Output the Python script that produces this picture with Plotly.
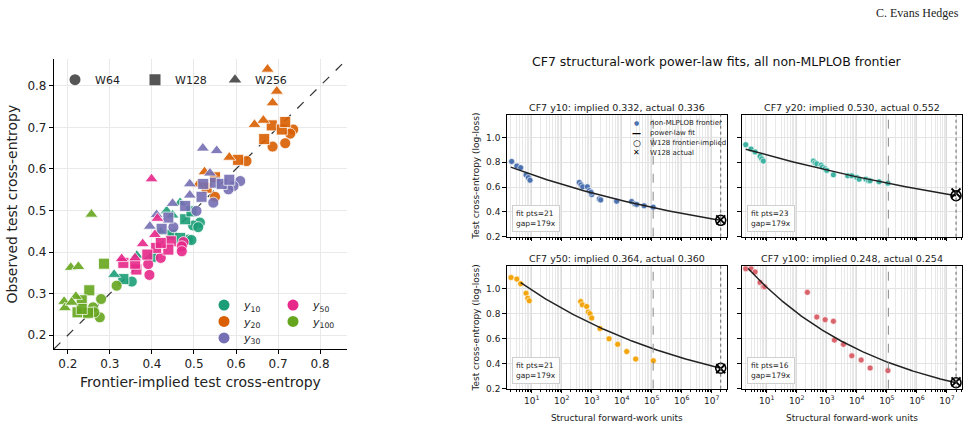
import numpy as np
import plotly.graph_objects as go

# ---------------- LEFT PANEL DATA (frontier-implied vs observed) ----------------
targets = ["y10", "y20", "y30", "y50", "y100"]
target_names = ["<i>y</i><sub>10</sub>", "<i>y</i><sub>20</sub>", "<i>y</i><sub>30</sub>",
                "<i>y</i><sub>50</sub>", "<i>y</i><sub>100</sub>"]
target_colors = ["#1b9e77", "#d95f02", "#7570b3", "#e7298a", "#66a61e"]
widths = ["W64", "W128", "W256"]
width_symbols = ["circle", "square", "triangle-up"]

y10_width = ["W64"] * 7 + ["W128"] * 5 + ["W256"] * 6
y10_implied = [0.514, 0.498, 0.510, 0.486, 0.494, 0.403, 0.352,
               0.479, 0.494, 0.447, 0.467, 0.332,
               0.435, 0.467, 0.449, 0.421, 0.364, 0.310]
y10_observed = [0.471, 0.464, 0.460, 0.430, 0.429, 0.388, 0.329,
                0.479, 0.498, 0.442, 0.434, 0.335,
                0.499, 0.519, 0.489, 0.448, 0.392, 0.346]

y20_width = ["W64"] * 6 + ["W128"] * 7 + ["W256"] * 8
y20_implied = [0.736, 0.729, 0.717, 0.687, 0.625, 0.550,
               0.685, 0.709, 0.717, 0.667, 0.605, 0.530, 0.550,
               0.675, 0.697, 0.687, 0.665, 0.644, 0.584, 0.525, 0.510]
y20_observed = [0.695, 0.685, 0.662, 0.654, 0.619, 0.533,
                0.705, 0.695, 0.713, 0.672, 0.622, 0.555, 0.580,
                0.840, 0.787, 0.759, 0.717, 0.707, 0.628, 0.593, 0.563]

y30_width = ["W64"] * 6 + ["W128"] * 8 + ["W256"] * 8
y30_implied = [0.610, 0.594, 0.582, 0.546, 0.506, 0.451,
               0.522, 0.550, 0.566, 0.584, 0.518, 0.479, 0.439, 0.423,
               0.521, 0.554, 0.538, 0.490, 0.490, 0.449, 0.411, 0.395]
y30_observed = [0.571, 0.559, 0.551, 0.519, 0.499, 0.460,
                0.564, 0.567, 0.564, 0.574, 0.533, 0.511, 0.483, 0.456,
                0.650, 0.644, 0.590, 0.564, 0.537, 0.517, 0.490, 0.462]

y50_width = ["W64"] * 6 + ["W128"] * 8 + ["W256"] * 6
y50_implied = [0.475, 0.471, 0.471, 0.421, 0.391, 0.394,
               0.410, 0.445, 0.439, 0.389, 0.363, 0.332, 0.360, 0.421,
               0.399, 0.413, 0.407, 0.378, 0.360, 0.328]
y50_observed = [0.424, 0.414, 0.402, 0.386, 0.371, 0.345,
                0.410, 0.426, 0.406, 0.394, 0.358, 0.374, 0.372, 0.422,
                0.576, 0.481, 0.442, 0.420, 0.386, 0.384]

y100_width = ["W64"] * 6 + ["W128"] * 6 + ["W256"] * 7
y100_implied = [0.316, 0.279, 0.260, 0.248, 0.276, 0.263,
                0.286, 0.251, 0.233, 0.223, 0.248, 0.233,
                0.256, 0.207, 0.225, 0.191, 0.219, 0.193, 0.209]
y100_observed = [0.319, 0.287, 0.267, 0.252, 0.243, 0.255,
                 0.372, 0.308, 0.284, 0.255, 0.254, 0.263,
                 0.491, 0.363, 0.365, 0.281, 0.293, 0.266, 0.279]

left_implied = [y10_implied, y20_implied, y30_implied, y50_implied, y100_implied]
left_observed = [y10_observed, y20_observed, y30_observed, y50_observed, y100_observed]
left_widths = [y10_width, y20_width, y30_width, y50_width, y100_width]

left_ticks = [0.2, 0.3, 0.4, 0.5, 0.6, 0.7, 0.8]
left_lim = [0.167, 0.864]

# ---------------- RIGHT PANELS DATA (CF7 power-law fits) ----------------
cf7_y10_work = [2.15, 3.2, 4.3, 6.5, 7.7, 8.8, 386, 440, 500, 713, 832, 1000, 950,
                1795, 1995, 6800, 21400, 27600, 31600, 56000, 112000]
cf7_y10_loss = [0.806, 0.769, 0.756, 0.698, 0.676, 0.655, 0.637, 0.618, 0.602, 0.602,
                0.571, 0.539, 0.557, 0.504, 0.496, 0.486, 0.483, 0.464, 0.460, 0.449, 0.438]

cf7_y20_work = [2.0, 3.0, 4.1, 6.0, 6.8, 7.7, 357, 407, 464, 646, 713, 877, 1000, 1660,
                5000, 6800, 10000, 11900, 20000, 24400, 27600, 55000, 108000]
cf7_y20_loss = [0.941, 0.906, 0.883, 0.848, 0.827, 0.809, 0.809, 0.795, 0.787, 0.777,
                0.761, 0.748, 0.734, 0.698, 0.690, 0.690, 0.676, 0.663, 0.663, 0.650,
                0.650, 0.642, 0.631]

cf7_y50_work = [2.05, 3.2, 4.3, 6.5, 7.4, 8.3, 430, 487, 681, 771, 877, 1000, 1890,
                3780, 7360, 14700, 29300, 113000]
cf7_y50_loss = [1.092, 1.079, 1.042, 0.965, 0.926, 0.905, 0.899, 0.873, 0.860, 0.815,
                0.802, 0.767, 0.683, 0.601, 0.556, 0.498, 0.438, 0.424]

cf7_y100_work = [2.0, 3.0, 4.1, 6.0, 7.7, 8.5, 225, 464, 877, 1660, 1790, 3570, 6800,
                 13900, 27700, 108000]
cf7_y100_loss = [1.163, 1.163, 1.137, 1.052, 1.018, 1.018, 0.973, 0.775, 0.754, 0.741,
                 0.590, 0.556, 0.464, 0.430, 0.366, 0.345]

panel_targets = ["y10", "y20", "y50", "y100"]
panel_work = [cf7_y10_work, cf7_y20_work, cf7_y50_work, cf7_y100_work]
panel_loss = [cf7_y10_loss, cf7_y20_loss, cf7_y50_loss, cf7_y100_loss]
panel_colors = ["#4c72b0", "#3fb3a3", "#f2a50c", "#d9646c"]
implied_w128 = [0.332, 0.530, 0.364, 0.248]
actual_w128 = [0.336, 0.552, 0.360, 0.254]
fit_exponent = [0.0514, 0.0332, 0.069, 0.097]
fit_start_work = [2.0, 2.0, 4.3, 2.4]
fit_points = [21, 23, 21, 16]
frontier_max_work = 1.12e5
w128_work = 2.0e7
gap_label = "179x"

mini_legend_labels = ["non-MLPLOB frontier", "power-law fit", "W128 frontier-implied", "W128 actual"]

right_yticks = [0.2, 0.4, 0.6, 0.8, 1.0]
right_yrange = [0.2, 1.183]
right_xrange_log = [0.167, 7.51]
right_xmajor = [10 ** k for k in range(1, 8)]
right_xminor = [m * 10 ** k for k in range(0, 8) for m in range(2, 10)]

# ---------------- FIGURE ----------------
W, H = 969, 428
fig = go.Figure()

def px_x(a):
    return a / W

def px_y(b):
    return 1 - b / H

# left panel: diagonal
fig.add_trace(go.Scatter(x=left_lim, y=left_lim, mode="lines",
                         line=dict(color="#333333", width=1.2, dash="dash"),
                         showlegend=False, hoverinfo="skip", xaxis="x", yaxis="y"))

for t, col, xi, yo, wl in zip(targets, target_colors, left_implied, left_observed, left_widths):
    for w, sym in zip(widths, width_symbols):
        xs = [a for a, ww in zip(xi, wl) if ww == w]
        ys = [b for b, ww in zip(yo, wl) if ww == w]
        fig.add_trace(go.Scatter(
            x=xs, y=ys, mode="markers",
            marker=dict(symbol=sym, color=col, size=11 if sym != "triangle-up" else 11.5,
                        opacity=0.9, line=dict(color="white", width=0.8)),
            showlegend=False, xaxis="x", yaxis="y"))

# shape legend
for w, sym in zip(widths, width_symbols):
    fig.add_trace(go.Scatter(x=[None], y=[None], mode="markers", name=w,
                             marker=dict(symbol=sym, color="#555555", size=11),
                             legend="legend", xaxis="x", yaxis="y"))

# colour legend: two columns (y10, y20, y30 | y50, y100), one legend per entry
color_legend_ids = ["legend2", "legend3", "legend4", "legend5", "legend6"]
color_legend_col = [0, 0, 0, 1, 1]
color_legend_row = [0, 1, 2, 0, 1]
for t, nm, col, lid in zip(targets, target_names, target_colors, color_legend_ids):
    fig.add_trace(go.Scatter(x=[None], y=[None], mode="markers", name=nm,
                             marker=dict(symbol="circle", color=col, size=11),
                             legend=lid, xaxis="x", yaxis="y"))

# right panels
axis_ids = [("x2", "y2"), ("x3", "y3"), ("x4", "y4"), ("x5", "y5")]
for i, (xa, ya) in enumerate(axis_ids):
    fig.add_trace(go.Scatter(
        x=panel_work[i], y=panel_loss[i], mode="markers", name=mini_legend_labels[0],
        marker=dict(color=panel_colors[i], size=6, line=dict(color="white", width=0.6)),
        showlegend=False, xaxis=xa, yaxis=ya))
    fx = np.logspace(np.log10(fit_start_work[i]), np.log10(w128_work), 200)
    fy = implied_w128[i] * (fx / w128_work) ** (-fit_exponent[i])
    fig.add_trace(go.Scatter(x=fx, y=fy, mode="lines", name=mini_legend_labels[1],
                             line=dict(color="#222222", width=1.5),
                             showlegend=False, xaxis=xa, yaxis=ya))
    fig.add_trace(go.Scatter(x=[w128_work], y=[implied_w128[i]], mode="markers",
                             name=mini_legend_labels[2],
                             marker=dict(symbol="circle-open", color="black", size=10,
                                         line=dict(width=1.6)),
                             showlegend=False, xaxis=xa, yaxis=ya))
    fig.add_trace(go.Scatter(x=[w128_work], y=[actual_w128[i]], mode="markers",
                             name=mini_legend_labels[3],
                             marker=dict(symbol="x-thin-open", color="black", size=9,
                                         line=dict(width=1.8, color="black")),
                             showlegend=False, xaxis=xa, yaxis=ya))

# ---------------- AXES ----------------
font_family = "DejaVu Sans"

left_axis_common = dict(range=left_lim, tickvals=left_ticks, ticktext=[f"{v:.1f}" for v in left_ticks],
                        showline=True, linecolor="black", linewidth=1.2, ticks="outside",
                        ticklen=4, tickcolor="black", showgrid=True, gridcolor="#e9e9e9",
                        gridwidth=1.3, zeroline=False, tickfont=dict(size=12, color="#222"))
fig.update_layout(
    xaxis=dict(domain=[px_x(54), px_x(347)], anchor="y",
               title=dict(text="Frontier-implied test cross-entropy", font=dict(size=14, color="#222"),
                          standoff=6), **left_axis_common),
    yaxis=dict(domain=[px_y(353), px_y(60)], anchor="x",
               title=dict(text="Observed test cross-entropy", font=dict(size=14, color="#222"),
                          standoff=6), **left_axis_common),
)

right_x_common = dict(type="log", range=right_xrange_log, tickvals=right_xmajor,
                      ticktext=[f"10<sup>{k}</sup>" for k in range(1, 8)],
                      showline=True, mirror=True, linecolor="black", linewidth=1,
                      ticks="outside", ticklen=3.5, tickcolor="black",
                      showgrid=True, gridcolor="#dcdcdc", gridwidth=0.8, zeroline=False,
                      minor=dict(tickvals=right_xminor, ticks="outside", ticklen=2,
                                 tickcolor="black", showgrid=True, gridcolor="#e8e8e8", gridwidth=0.8),
                      tickfont=dict(size=9, color="#222"))
right_y_common = dict(range=right_yrange, tickvals=right_yticks,
                      ticktext=[f"{v:.1f}" for v in right_yticks],
                      showline=True, mirror=True, linecolor="black", linewidth=1,
                      ticks="outside", ticklen=3.5, tickcolor="black",
                      showgrid=True, gridcolor="#e3e3e3", gridwidth=0.8, zeroline=False,
                      tickfont=dict(size=9, color="#222"))

col_x = [(506.7, 727.0), (741.7, 962.3)]
row_y = [(239.5, 116.0), (393.3, 269.3)]
ytitle = dict(text="Test cross-entropy (log-loss)", font=dict(size=9, color="#222"), standoff=4)
xtitle = dict(text="Structural forward-work units", font=dict(size=9, color="#222"), standoff=9)

for i, (xa, ya) in enumerate(axis_ids):
    r, c = divmod(i, 2)
    xd = dict(right_x_common)
    yd = dict(right_y_common)
    xd.update(domain=[px_x(col_x[c][0]), px_x(col_x[c][1])], anchor=ya)
    yd.update(domain=[px_y(row_y[r][0]), px_y(row_y[r][1])], anchor=xa)
    if r == 0:
        xd["showticklabels"] = False
    else:
        xd["title"] = xtitle
    if c == 1:
        yd["showticklabels"] = False
    else:
        yd["title"] = ytitle
    fig.layout["xaxis" + xa[1:]] = xd
    fig.layout["yaxis" + ya[1:]] = yd

    fig.add_shape(type="line", xref=xa, yref=ya + " domain", x0=frontier_max_work, x1=frontier_max_work,
                  y0=0, y1=1, line=dict(color="#888888", width=1, dash="dash"))
    fig.add_shape(type="line", xref=xa, yref=ya + " domain", x0=w128_work, x1=w128_work,
                  y0=0, y1=1, line=dict(color="#666666", width=1, dash="dot"))

    fig.add_annotation(xref=xa + " domain", yref=ya + " domain", x=0.5, y=1, yanchor="bottom",
                       yshift=0, showarrow=False,
                       text=f"CF7 {panel_targets[i]}: implied {implied_w128[i]:.3f}, actual {actual_w128[i]:.3f}",
                       font=dict(size=9.5, color="#222"))
    fig.add_annotation(xref=xa + " domain", yref=ya + " domain", x=0.025, y=0.035,
                       xanchor="left", yanchor="bottom", showarrow=False, align="left",
                       text=f"fit pts={fit_points[i]}<br>gap={gap_label}",
                       font=dict(size=7.5, color="#222"), bgcolor="white",
                       bordercolor="#cfcfcf", borderwidth=1, borderpad=3)

# compact legend in the first fit panel (glyph + label rows)
mini_glyphs = [f"<span style='color:{panel_colors[0]}'>●</span>", "<b>—</b>", "○", "✕"]
mini_glyph_sizes = [6, 9, 9, 8]
for k, (g, gs, lab) in enumerate(zip(mini_glyphs, mini_glyph_sizes, mini_legend_labels)):
    fig.add_annotation(xref="x2 domain", yref="y2 domain", x=0.59, y=0.935 - k * 0.081,
                       xanchor="center", yanchor="middle", showarrow=False, text=g,
                       font=dict(size=gs, color="black"), height=9)
    fig.add_annotation(xref="x2 domain", yref="y2 domain", x=0.64, y=0.935 - k * 0.081,
                       xanchor="left", yanchor="middle", showarrow=False, text=lab,
                       font=dict(size=7, color="#222"), height=9)

# titles / header
fig.add_annotation(xref="paper", yref="paper", x=px_x(717), y=px_y(62), showarrow=False,
                   xanchor="center", yanchor="middle",
                   text="CF7 structural-work power-law fits, all non-MLPLOB frontier",
                   font=dict(size=12.5, color="#111"))
fig.add_annotation(xref="paper", yref="paper", x=px_x(961), y=px_y(13), xanchor="right",
                   yanchor="middle", showarrow=False, text="C. Evans Hedges",
                   font=dict(size=12, color="#222", family="Liberation Serif"))

leg_common = dict(bgcolor="rgba(0,0,0,0)", borderwidth=0, font=dict(size=11, color="#222"),
                  xanchor="left", yanchor="top")
layout_legends = dict(
    legend=dict(orientation="h", x=px_x(55), y=px_y(66), entrywidth=35, entrywidthmode="pixels",
                **leg_common))
col_left = [204, 273]
row_top = 294
row_step = 16.6
for lid, c, r in zip(color_legend_ids, color_legend_col, color_legend_row):
    layout_legends[lid] = dict(orientation="v", x=px_x(col_left[c]), y=px_y(row_top + r * row_step),
                               **leg_common)

fig.update_layout(
    width=W, height=H, margin=dict(l=0, r=0, t=0, b=0),
    paper_bgcolor="white", plot_bgcolor="white",
    font=dict(family=font_family, color="#222"),
    **layout_legends,
)

fig.write_html("out.html")
